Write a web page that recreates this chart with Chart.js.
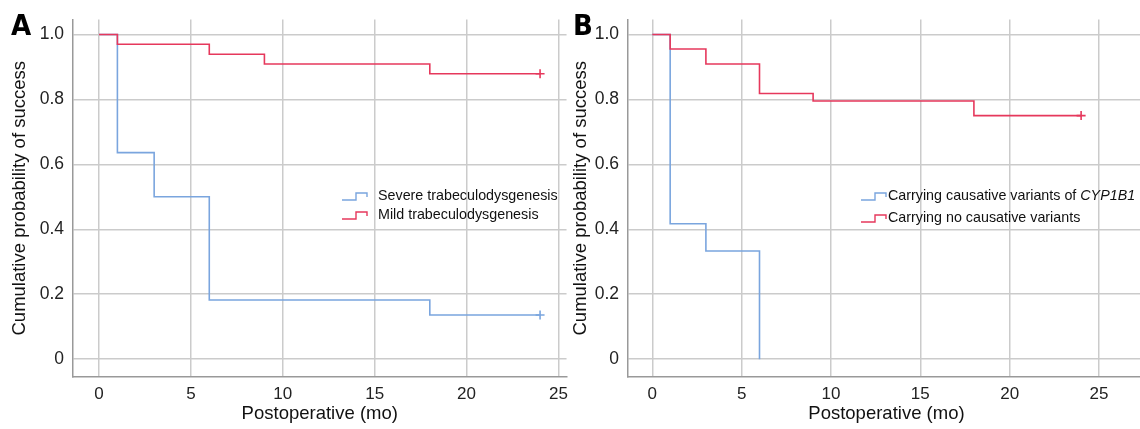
<!DOCTYPE html>
<html>
<head>
<meta charset="utf-8">
<script src="https://cdn.jsdelivr.net/npm/chart.js@4/dist/chart.umd.min.js"></script>
<style>
  html,body{margin:0;padding:0;background:#fff;overflow:hidden;width:1140px;height:429px;}
  .wrap{position:absolute;top:0;height:429px;}
  .letter{position:absolute;font-family:'Liberation Sans Narrow','DejaVu Sans Condensed',sans-serif;font-weight:bold;font-size:29px;line-height:29px;color:#000;}
</style>
</head>
<body>
<div class="wrap" style="left:0;width:575px;"><canvas id="cA" width="575" height="429"></canvas></div>
<div class="wrap" style="left:570px;width:581px;"><canvas id="cB" width="581" height="429"></canvas></div>
<div class="letter" style="left:11px;top:11px;">A</div>
<div class="letter" style="left:573px;top:11px;">B</div>
<script>
// ---- data ----
const xTicks = [0, 5, 10, 15, 20, 25];
const yTicks = [0, 0.2, 0.4, 0.6, 0.8, 1.0];

const monthsSevere = [0, 1, 3, 6, 18, 24];
const survSevere   = [1.0, 0.636, 0.5, 0.182, 0.136, 0.136];
const monthsMild   = [0, 1, 6, 9, 18, 24];
const survMild     = [1.0, 0.970, 0.939, 0.909, 0.879, 0.879];

const monthsCYP    = [0, 1, 3, 6];
const survCYP      = [1.0, 0.417, 0.333, 0.0];
const monthsNoVar  = [0, 1, 3, 6, 9, 18, 24];
const survNoVar    = [1.0, 0.955, 0.909, 0.818, 0.795, 0.75, 0.75];

const censorSevere = [false, false, false, false, false, true];
const censorMild   = [false, false, false, false, false, true];
const censorCYP    = [false, false, false, false];
const censorNoVar  = [false, false, false, false, false, false, true];

const labelsA = ['Severe trabeculodysgenesis', 'Mild trabeculodysgenesis'];
const labelsB = [[{t:'Carrying causative variants of '},{t:'CYP1B1',i:true}], [{t:'Carrying no causative variants'}]];

const BLUE = '#7aa5de';
const RED = '#e6385c';
const FONT = "'Liberation Sans', Arial, sans-serif";

function pts(xs, ys){ return xs.map((x,i)=>({x:x, y:ys[i]})); }

function ds(xs, ys, cens, color, order){
  return {
    data: pts(xs, ys),
    order: order,
    borderColor: color,
    backgroundColor: color,
    borderWidth: 1.6,
    stepped: 'before',
    fill: false,
    pointStyle: 'cross',
    pointRadius: cens.map(c => c ? 4.5 : 0),
    pointHoverRadius: 0,
    pointBorderWidth: 1.6,
    pointBorderColor: color
  };
}

const legendPlugin = {
  id: 'kmLegend',
  afterDraw(chart, args, opts){
    const ctx = chart.ctx;
    ctx.save();
    opts.items.forEach((it, k) => {
      const y = opts.y + k * opts.gap;
      const x0 = opts.x, w = 25;
      ctx.strokeStyle = it.color;
      ctx.lineWidth = 1.4;
      ctx.beginPath();
      ctx.moveTo(x0, y + 4);
      ctx.lineTo(x0 + 14, y + 4);
      ctx.lineTo(x0 + 14, y - 3);
      ctx.lineTo(x0 + w, y - 3);
      ctx.lineTo(x0 + w, y + 1);
      ctx.stroke();
      let tx = x0 + opts.textGap;
      ctx.fillStyle = '#111';
      ctx.textBaseline = 'middle';
      it.parts.forEach(p => {
        ctx.font = (p.i ? 'italic ' : '') + opts.size + 'px ' + FONT;
        ctx.fillText(p.t, tx, y);
        tx += ctx.measureText(p.t).width;
      });
    });
    ctx.restore();
  }
};

function makeChart(id, datasets, xmin, xmax, yAxisW, yTitlePad, padRight, legendOpts){
  return new Chart(document.getElementById(id), {
    type: 'line',
    data: { datasets: datasets },
    options: {
      responsive: false,
      animation: false,
      events: [],
      layout: { padding: { top: 12, right: padRight, left: 0, bottom: 0 } },
      plugins: { legend: { display: false }, tooltip: { enabled: false }, kmLegend: legendOpts },
      scales: {
        x: {
          type: 'linear', min: xmin, max: xmax,
          afterBuildTicks: s => { s.ticks = xTicks.map(v => ({value: v})); },
          afterFit: s => { s.height = 52; },
          grid: { color: '#cbcbcb', lineWidth: 1.5, drawTicks: false },
          border: { color: '#999999', width: 1.5 },
          ticks: { font: { family: FONT, size: 17 }, color: '#222', padding: 7, maxRotation: 0 },
          title: { display: true, text: 'Postoperative (mo)', font: { family: FONT, size: 18.5 }, color: '#111', padding: { top: 0, bottom: 4 } }
        },
        y: {
          type: 'linear', min: -0.055, max: 1.046,
          afterBuildTicks: s => { s.ticks = yTicks.map(v => ({value: v})); },
          afterFit: s => { s.width = yAxisW; },
          grid: { color: '#cbcbcb', lineWidth: 1.5, drawTicks: false },
          border: { color: '#999999', width: 1.5 },
          ticks: { font: { family: FONT, size: 17.5 }, color: '#222', padding: 9,
                   callback: v => v === 0 ? '0' : v.toFixed(1) },
          title: { display: true, text: 'Cumulative probability of success', font: { family: FONT, size: 18.5 }, color: '#111', padding: { top: yTitlePad, bottom: 0 } }
        }
      }
    },
    plugins: [legendPlugin]
  });
}

makeChart('cA',
  [ds(monthsSevere, survSevere, censorSevere, BLUE, 1), ds(monthsMild, survMild, censorMild, RED, 0)],
  -1.416, 25.44, 73, 9, 0,
  { x: 342, y: 196, gap: 19, textGap: 36, size: 14.3,
    items: [{color: BLUE, parts: [{t: labelsA[0]}]}, {color: RED, parts: [{t: labelsA[1]}]}] });

makeChart('cB',
  [ds(monthsCYP, survCYP, censorCYP, BLUE, 1), ds(monthsNoVar, survNoVar, censorNoVar, RED, 0)],
  -1.36, 27.57, 58, 0, 0,
  { x: 861 - 570, y: 196, gap: 22, textGap: 27, size: 14.3,
    items: [{color: BLUE, parts: labelsB[0]}, {color: RED, parts: labelsB[1]}] });
</script>
</body>
</html>
